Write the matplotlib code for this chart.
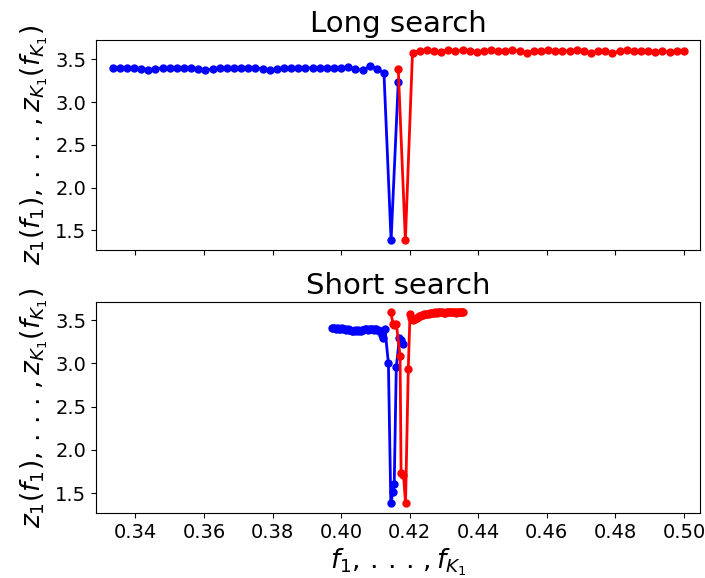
import matplotlib
matplotlib.use('Agg')
import matplotlib.pyplot as plt

# long search: frequency grid and the two curves
long_f = [0.33333, 0.33542, 0.33750, 0.33958, 0.34167, 0.34375, 0.34583, 0.34792,
          0.35000, 0.35208, 0.35417, 0.35625, 0.35833, 0.36042, 0.36250, 0.36458,
          0.36667, 0.36875, 0.37083, 0.37292, 0.37500, 0.37708, 0.37917, 0.38125,
          0.38333, 0.38542, 0.38750, 0.38958, 0.39167, 0.39375, 0.39583, 0.39792,
          0.40000, 0.40208, 0.40417, 0.40625, 0.40833, 0.41042, 0.41250, 0.41458,
          0.41667, 0.41875, 0.42083, 0.42292, 0.42500, 0.42708, 0.42917, 0.43125,
          0.43333, 0.43542, 0.43750, 0.43958, 0.44167, 0.44375, 0.44583, 0.44792,
          0.45000, 0.45208, 0.45417, 0.45625, 0.45833, 0.46042, 0.46250, 0.46458,
          0.46667, 0.46875, 0.47083, 0.47292, 0.47500, 0.47708, 0.47917, 0.48125,
          0.48333, 0.48542, 0.48750, 0.48958, 0.49167, 0.49375, 0.49583, 0.49792,
          0.50000]
long_blue = [3.40, 3.40, 3.40, 3.40, 3.39, 3.38, 3.39, 3.40, 3.40, 3.40, 3.40, 3.40,
             3.39, 3.37, 3.39, 3.40, 3.40, 3.40, 3.40, 3.40, 3.40, 3.39, 3.37, 3.39,
             3.40, 3.40, 3.40, 3.40, 3.40, 3.40, 3.40, 3.40, 3.40, 3.41, 3.39, 3.37,
             3.42, 3.39, 3.34, 1.38, 3.23]
long_red = [3.39, 1.38, 3.58, 3.60, 3.61, 3.60, 3.59, 3.61, 3.60, 3.61, 3.60, 3.59,
            3.60, 3.61, 3.60, 3.60, 3.61, 3.60, 3.58, 3.60, 3.60, 3.61, 3.60, 3.60,
            3.60, 3.61, 3.60, 3.57, 3.60, 3.60, 3.57, 3.60, 3.61, 3.60, 3.60, 3.60,
            3.59, 3.60, 3.59, 3.60, 3.60]

# short search
short_blue_f = [0.3973, 0.3977, 0.3981, 0.3985, 0.3990, 0.3994, 0.3998, 0.4002,
                0.4006, 0.4011, 0.4015, 0.4019, 0.4023, 0.4027, 0.4032, 0.4036,
                0.4040, 0.4044, 0.4048, 0.4053, 0.4057, 0.4061, 0.4065, 0.4069,
                0.4074, 0.4078, 0.4082, 0.4086, 0.4090, 0.4095, 0.4099, 0.4103,
                0.4107, 0.4111, 0.4116, 0.4119, 0.4122, 0.4128,
                0.4138, 0.4145, 0.4151, 0.4155, 0.4161, 0.4170, 0.4174, 0.4180]
short_blue = [3.41, 3.41, 3.41, 3.40, 3.41, 3.40, 3.40, 3.41, 3.40, 3.40, 3.39, 3.40,
              3.39, 3.39, 3.38, 3.38, 3.39, 3.38, 3.39, 3.38, 3.38, 3.39, 3.39, 3.40,
              3.40, 3.39, 3.40, 3.40, 3.40, 3.39, 3.40, 3.40, 3.39, 3.38, 3.37, 3.33,
              3.29, 3.40,
              3.00, 1.38, 1.51, 1.61, 2.96, 3.29, 3.27, 3.23]
short_red_f = [0.4145, 0.4151, 0.4155, 0.4161, 0.4172, 0.4175, 0.4182, 0.4188,
               0.4196, 0.4201, 0.4205, 0.4209, 0.4213, 0.4216, 0.4220, 0.4223,
               0.4227, 0.4231, 0.4235, 0.4239, 0.4243, 0.4247, 0.4251, 0.4255,
               0.4259, 0.4263, 0.4267, 0.4271, 0.4275, 0.4279, 0.4283, 0.4287,
               0.4291, 0.4295, 0.4299, 0.4303, 0.4307, 0.4311, 0.4315, 0.4319,
               0.4323, 0.4327, 0.4331, 0.4335, 0.4339, 0.4343, 0.4347, 0.4350,
               0.4354, 0.4357]
short_red = [3.60, 3.46, 3.45, 3.46, 3.09, 1.73, 1.71, 1.38, 2.94, 3.57, 3.53, 3.50,
             3.52, 3.52, 3.53, 3.54, 3.55, 3.55, 3.56, 3.56, 3.57, 3.57, 3.57, 3.57,
             3.58, 3.58, 3.58, 3.58, 3.59, 3.58, 3.59, 3.59, 3.59, 3.59, 3.58, 3.58,
             3.59, 3.59, 3.59, 3.59, 3.60, 3.59, 3.59, 3.58, 3.59, 3.59, 3.60, 3.59,
             3.59, 3.59]

ylab = r'$z_1(f_1),\,.\,.\,.\,,z_{K_1}(f_{K_1})$'
xlab = r'$f_1,\,.\,.\,.\,,f_{K_1}$'

fig = plt.figure(figsize=(7.05, 5.78), dpi=100)
ax1 = fig.add_axes([0.1362, 0.5675, 0.8567, 0.3625])
ax2 = fig.add_axes([0.1362, 0.1125, 0.8567, 0.365], sharex=ax1)

ax1.plot(long_f[:41], long_blue, 'b.-', lw=2, ms=10)
ax1.plot(long_f[40:], long_red, 'r.-', lw=2, ms=10)
ax1.set_title('Long search', fontsize=21)
ax1.set_ylabel(ylab, fontsize=19)
ax1.tick_params(labelbottom=False, labelsize=14)

ax2.plot(short_blue_f, short_blue, 'b.-', lw=2, ms=10)
ax2.plot(short_red_f, short_red, 'r.-', lw=2, ms=10)
ax2.set_title('Short search', fontsize=21)
ax2.set_ylabel(ylab, fontsize=19)
ax2.set_xlabel(xlab, fontsize=19, labelpad=3)
ax2.tick_params(labelsize=14)

ax1.set_xlim(0.3285, 0.5047)
ax1.set_xticks([0.34, 0.36, 0.38, 0.40, 0.42, 0.44, 0.46, 0.48, 0.50])
for ax in (ax1, ax2):
    ax.set_yticks([1.5, 2.0, 2.5, 3.0, 3.5])

plt.savefig('out.png', dpi=100)
